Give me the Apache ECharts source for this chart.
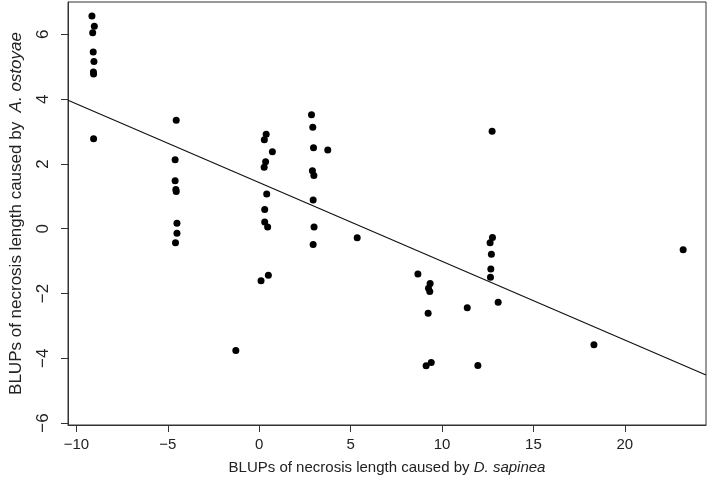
<!DOCTYPE html>
<html>
<head>
    <meta charset="utf-8">
    <title>BLUPs scatter</title>
    <script src="https://cdn.jsdelivr.net/npm/echarts@6/dist/echarts.min.js"></script>
    <style>
        html, body { margin: 0; padding: 0; background: #fff; }
        #chart { width: 709px; height: 482px; }
    </style>
</head>
<body>
    <div id="chart"></div>
    <script type="text/javascript">
        // BLUPs: D. sapinea (x) vs A. ostoyae (y)
        const sapinea = [
            -9.15, -9.02, -9.11, -9.08, -9.04, -9.06, -9.07, -9.06,
            -4.54, -4.60, -4.60, -4.54, -4.56, -4.50, -4.50, -4.58,
            2.86, 2.93, 0.38, 0.28, 0.72, 2.97, 3.75, 0.35, 0.27, 2.91, 2.99,
            0.41, 0.30, 2.95, 0.30, 0.46, 3.00, 5.36, 2.95, 0.50, 0.10, -1.28,
            12.74, 12.76, 12.63, 12.70, 12.67, 12.65, 8.68, 9.35, 9.26, 9.33,
            9.24, 11.38, 13.07, 23.19, 18.31, 9.41, 9.13, 11.96
        ];
        const ostoyae = [
            6.57, 6.25, 6.05, 5.46, 5.16, 4.78, 4.84, 2.78,
            3.35, 2.13, 1.48, 1.15, 1.21, 0.17, -0.14, -0.43,
            3.52, 3.13, 2.92, 2.75, 2.38, 2.50, 2.43, 2.07, 1.90, 1.79, 1.64,
            1.07, 0.59, 0.89, 0.21, 0.05, 0.05, -0.28, -0.49, -1.44, -1.61, -3.76,
            3.01, -0.27, -0.43, -0.79, -1.24, -1.50, -1.40, -1.69, -1.84, -1.94,
            -2.61, -2.44, -2.27, -0.65, -3.58, -4.13, -4.23, -4.22
        ];
        // fitted regression line
        const intercept = 1.424;
        const slope = -0.243;

        const xTicks = [-10, -5, 0, 5, 10, 15, 20];
        const yTicks = [-6, -4, -2, 0, 2, 4, 6];
        const xMin = -10.46, xMax = 24.44;
        const yMin = -6.06, yMax = 7.0;

        const points = sapinea.map(function (x, i) { return [x, ostoyae[i]]; });
        const fitLine = [xMin, xMax].map(function (x) { return [x, intercept + slope * x]; });

        const font = "'Liberation Sans', Arial, Helvetica, sans-serif";
        // R prints a real minus sign
        const minus = function (v) { return String(v).replace('-', '\u2212'); };
        const chart = echarts.init(document.getElementById('chart'));

        chart.setOption({
            animation: false,
            backgroundColor: '#fff',
            textStyle: { fontFamily: font },
            grid: {
                left: 65, right: 3, top: 2, bottom: 57,
                show: true, borderColor: '#333', borderWidth: 1,
                containLabel: false
            },
            xAxis: {
                type: 'value',
                min: xMin, max: xMax,
                name: 'BLUPs of necrosis length caused by {i|D. sapinea}',
                nameLocation: 'middle',
                nameGap: 35,
                nameTextStyle: {
                    color: '#222', fontSize: 15, fontFamily: font,
                    rich: { i: { fontStyle: 'italic', fontSize: 15, color: '#222', fontFamily: font } }
                },
                axisLine: { show: true, onZero: false, lineStyle: { color: '#333', width: 1 } },
                axisTick: { show: true, length: 7, customValues: xTicks, lineStyle: { color: '#333' } },
                axisLabel: { customValues: xTicks, formatter: minus, margin: 12, color: '#222', fontSize: 15, fontFamily: font },
                splitLine: { show: false }
            },
            yAxis: {
                type: 'value',
                min: yMin, max: yMax,
                name: 'BLUPs of necrosis length caused by  {i|A. ostoyae}',
                nameLocation: 'middle',
                nameRotate: 90,
                nameGap: 43,
                nameTextStyle: {
                    color: '#222', fontSize: 17, fontFamily: font,
                    rich: { i: { fontStyle: 'italic', fontSize: 17, color: '#222', fontFamily: font } }
                },
                axisLine: { show: true, onZero: false, lineStyle: { color: '#333', width: 1 } },
                axisTick: { show: true, length: 7, customValues: yTicks, lineStyle: { color: '#333' } },
                axisLabel: { customValues: yTicks, formatter: minus, rotate: 90, margin: 16, color: '#222', fontSize: 17, fontFamily: font },
                splitLine: { show: false }
            },
            series: [
                {
                    type: 'line',
                    data: fitLine,
                    symbol: 'none',
                    silent: true,
                    lineStyle: { color: '#111', width: 1.2 },
                    z: 2
                },
                {
                    type: 'scatter',
                    data: points,
                    symbol: 'circle',
                    symbolSize: 7,
                    itemStyle: { color: '#000', opacity: 1 },
                    z: 3
                }
            ]
        });
    </script>
</body>
</html>
